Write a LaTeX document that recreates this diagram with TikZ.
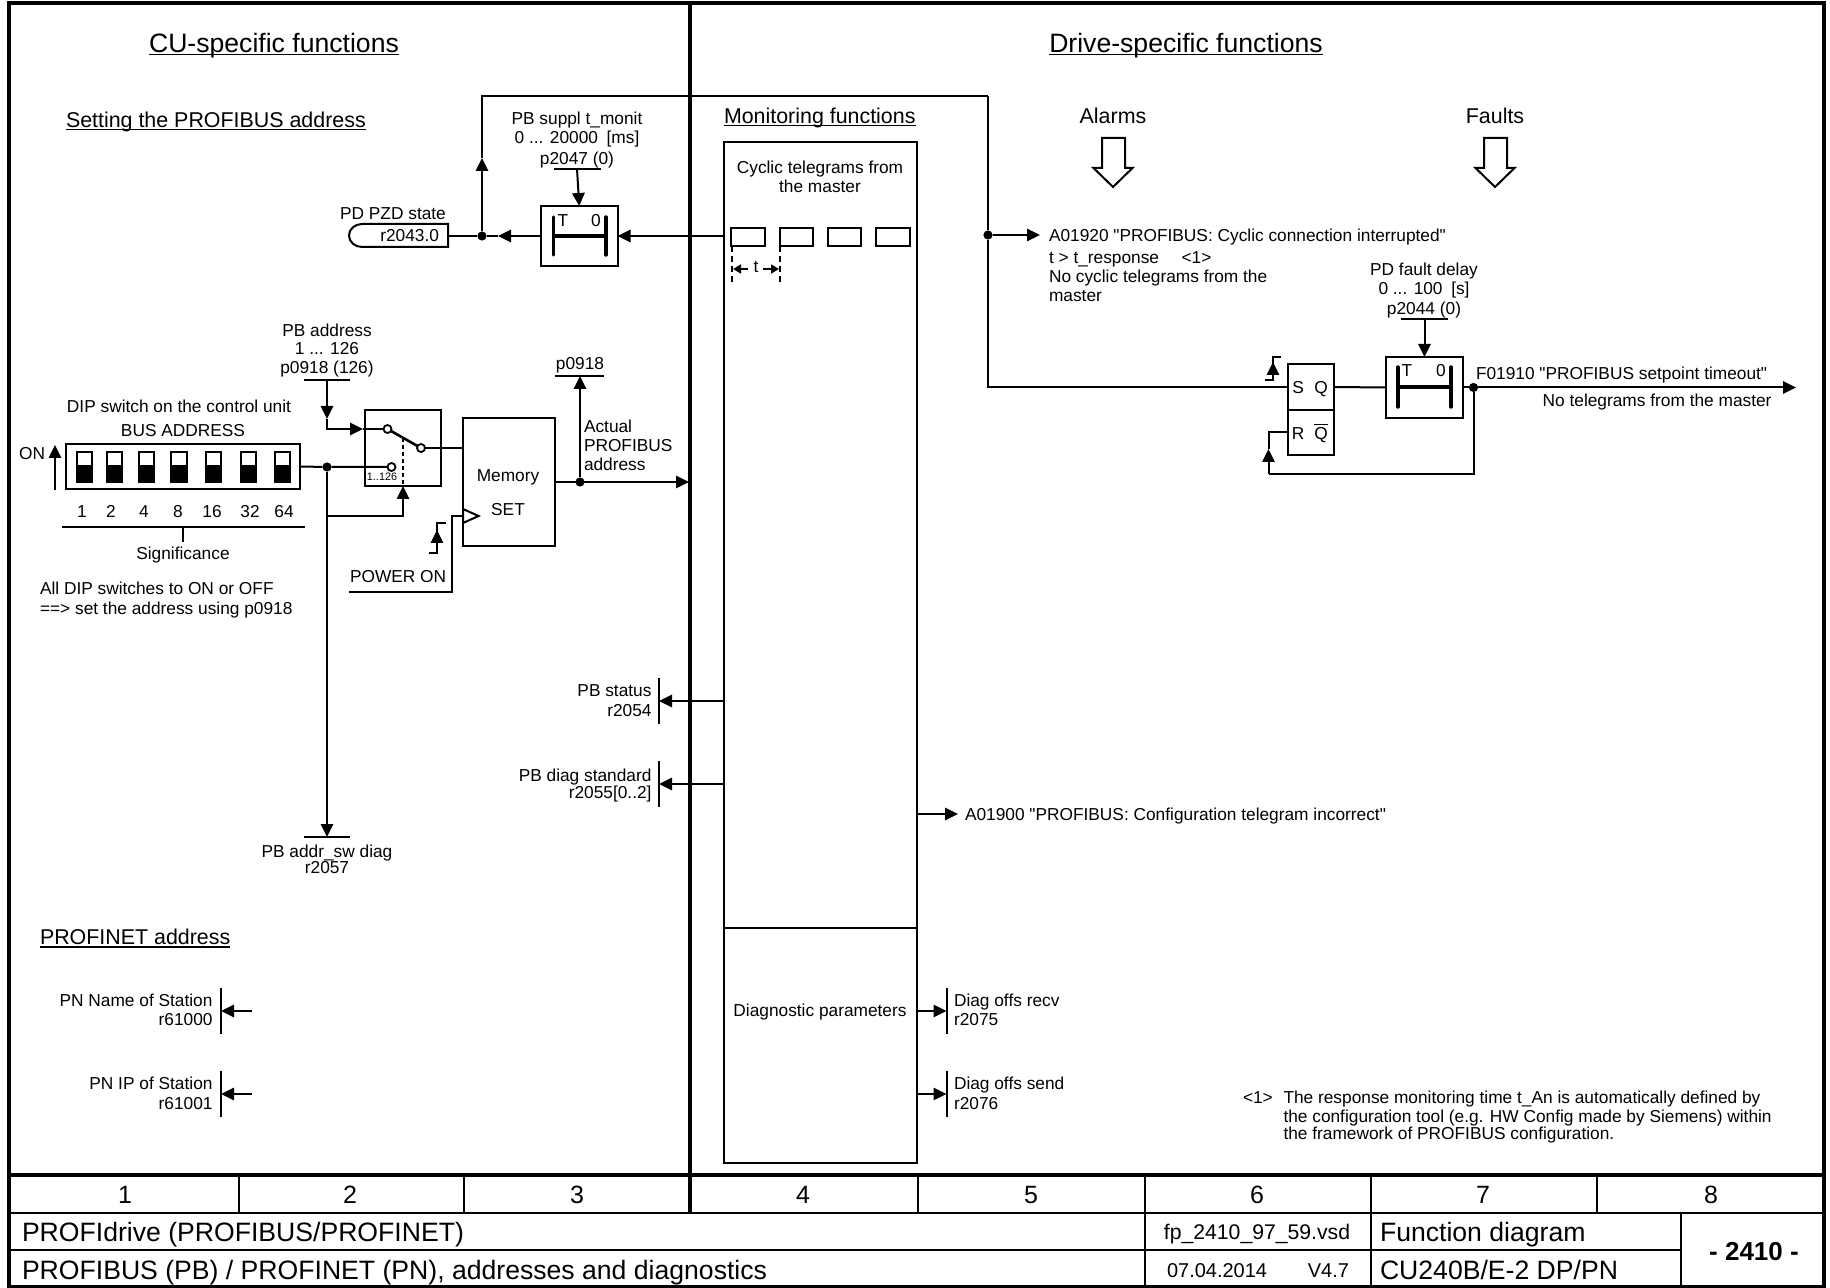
\documentclass[tikz,border=0pt]{standalone}
\usepackage{fontspec}
\setmainfont{Liberation Sans}[Ligatures=TeXOff]
\usetikzlibrary{arrows.meta}
\newcommand\fs[1]{\fontsize{#1pt}{#1pt}\selectfont}
\newcommand\ulx[1]{\setbox0=\hbox{#1}\rlap{\rule[-1.4pt]{\wd0}{.75pt}}\box0}
\newlength\bw\newlength\bh
% \bx[opts]{name}{x1}{y1}{x2}{y2}
\newcommand\bx[6][]{%
  \pgfmathsetlength\bw{(#5-#3)*0.5pt}\pgfmathsetlength\bh{(#6-#4)*0.5pt}%
  \pgfmathsetmacro\bcx{(#3+#5)/2}\pgfmathsetmacro\bcy{(#4+#6)/2}%
  \node[boxn,minimum width=\bw,minimum height=\bh,#1] (#2) at (\bcx,\bcy) {};}
\tikzset{
  x=0.5pt,y=-0.5pt,
  every path/.style={line width=1pt,draw=black},
  boxn/.style={draw,inner sep=0,outer sep=0,rectangle,fill=white},
  lbl/.style={inner sep=0,outer sep=0,font=\fs{8.65},text height=6.2pt,text depth=0pt,draw=none},
  lblS/.style={lbl,font=\fs{7.9},text height=5.7pt},
  lblM/.style={lbl,font=\fs{10.7},text height=7.7pt},
  lblT/.style={lbl,font=\fs{13.3},text height=9.6pt},
  lblB/.style={lbl,font=\fs{13.3},text height=9.6pt},
  lblD/.style={lbl,font=\fs{10},text height=7.2pt},
  lblN/.style={lbl,font=\fs{12.5},text height=9pt},
  tip/.style={-{Triangle[length=6.5pt,width=6.2pt]}},
  smalltip/.style={-{Triangle[length=4pt,width=4.5pt]},line width=.9pt},
  dotn/.style={circle,fill=black,draw=none,inner sep=0,minimum size=4.6pt,outer sep=0},
  contact/.style={circle,fill=white,draw=black,line width=.9pt,inner sep=0,minimum size=4pt,outer sep=0},
  heavy/.style={line width=1.9pt},
  bar/.style={line width=1.7pt,line cap=round},
  bar2/.style={line width=1pt},
  hollow/.style={line width=1pt,fill=white,line join=miter},
}
\newcommand\holl[1]{\draw[hollow] (#1-11,138)--(#1+12,138)--(#1+12,168)--(#1+19.5,168)--(#1,187)--(#1-19.5,168)--(#1-11,168)--cycle;}
\begin{document}
\begin{tikzpicture}
\useasboundingbox[fill=white,draw=none] (0,0) rectangle (1830,1288);

% frame and title block
\draw[heavy] (9,3) rectangle (1824,1287);
\draw[heavy] (690,3) -- (690,1213);
\draw[line width=2pt] (9,1175) -- (1824,1175);
\draw[line width=1.4pt] (9,1213) -- (1824,1213);
\draw[line width=1.2pt] (9,1250) -- (1681,1250);
\foreach \cx in {239,464,918,1145,1371,1597} \draw[line width=1.2pt] (\cx,1175) -- (\cx,1213);
\foreach \cx in {1145,1371,1681} \draw[line width=1.2pt] (\cx,1213) -- (\cx,1287);
\node[lblN] (n1) at (125,1194) {1};
\node[lblN] (n2) at (350,1194) {2};
\node[lblN] (n3) at (577,1194) {3};
\node[lblN] (n4) at (803,1194) {4};
\node[lblN] (n5) at (1031,1194) {5};
\node[lblN] (n6) at (1257,1194) {6};
\node[lblN] (n7) at (1483,1194) {7};
\node[lblN] (n8) at (1711,1194) {8};
\node[lblB,anchor=west] (t1) at (22,1232) {PROFIdrive (PROFIBUS/PROFINET)};
\node[lblB,anchor=west] (t2) at (22,1270) {PROFIBUS (PB) / PROFINET (PN), addresses and diagnostics};
\node[lblD,font=\fs{10.6}] (t3) at (1257,1232) {fp\_2410\_97\_59.vsd};
\node[lblD,anchor=west] (t4) at (1167,1270) {07.04.2014};
\node[lblD,anchor=east] (t5) at (1349,1270) {V4.7};
\node[lblB,anchor=west] (t6) at (1380,1232) {Function diagram};
\node[lblB,anchor=west] (t7) at (1380,1270) {CU240B/E-2 DP/PN};
\node[lblB,font=\fs{13}\bfseries] (t8) at (1754,1251) {- 2410 -};

% headings
\node[lblT] (h1) at (274,43) {\ulx{CU-specific functions}};
\node[lblT] (h2) at (1186,43) {\ulx{Drive-specific functions}};
\node[lblM,anchor=west] (h3) at (66,120) {\ulx{Setting the PROFIBUS address}};
\node[lblM,anchor=west] (h4) at (724,116) {\ulx{Monitoring functions}};
\node[lblM,anchor=west] (h5) at (40,937) {\ulx{PROFINET address}};
\node[lblM] (h6) at (1113,116) {Alarms};
\node[lblM] (h7) at (1495,116) {Faults};
\holl{1113}
\holl{1495}

% monitoring block
\bx{M1}{724}{142}{917}{928}
\bx{M2}{724}{928}{917}{1163}
\node[lbl] (m1) at (820,167) {Cyclic telegrams from};
\node[lbl] (m2) at (820,186) {the master};
\node[lbl] (m3) at (820,1010) {Diagnostic parameters};
\bx{R1}{731}{228}{765}{246}
\bx{R2}{780}{228}{813}{246}
\bx{R3}{828}{228}{861}{246}
\bx{R4}{876}{228}{910}{246}
\coordinate (d1a) at (732,246); \coordinate (d1b) at (732,282);
\coordinate (d2a) at (780,246); \coordinate (d2b) at (780,282);
\draw[dashed,line width=.9pt,dash pattern=on 3pt off 2pt] (d1a) -- (d1b);
\draw[dashed,line width=.9pt,dash pattern=on 3pt off 2pt] (d2a) -- (d2b);
\node[lbl] (tt) at (756,266) {t};
\coordinate (ta) at (748,269); \coordinate (tb) at (733,269);
\coordinate (tc) at (763,269); \coordinate (td) at (779,269);
\draw[smalltip] (ta) -- (tb);
\draw[smalltip] (tc) -- (td);

% PB supply monitoring
\bx{T1}{541}{206}{617.5}{266}
\coordinate (T1a) at (553.5,217); \coordinate (T1b) at (553.5,255);
\coordinate (T1c) at (606,217); \coordinate (T1d) at (606,255);
\coordinate (T1e) at (553.5,236); \coordinate (T1f) at (606,236);
\draw[bar] (T1a) -- (T1b); \draw[bar] (T1c) -- (T1d); \draw[bar,line cap=butt] (T1e) -- (T1f);
\node[lbl] (T1T) at (563,220) {T};
\node[lbl] (T10) at (596,220) {0};
\node[lbl] (p1) at (577,118) {PB suppl t\_monit};
\node[lbl] (p2) at (577,137) {0 ... 20000\hspace{.5em}[ms]};
\node[lbl] (p3) at (577,158) {p2047 (0)};
\coordinate (b1a) at (554,169); \coordinate (b1b) at (601,169); \coordinate (b1c) at (577,169);
\draw (b1a) -- (b1b);
\draw[tip] (b1c) -- (T1.north);

\coordinate (monL) at (724,236);
\draw[tip] (monL) -- (T1.east);
\node[lbl] (pzd) at (393,213) {PD PZD state};
\draw (448,224) -- (362,224) arc (270:90:13 and 11.5) -- (448,247) -- cycle;
\coordinate (pzdE) at (448,236);
\node[lbl,anchor=east] (pzdv) at (439,235) {r2043.0};
\node[dotn] (j2) at (482,236) {};
\coordinate (a2) at (498,236);
\draw[tip] (T1.west) -- (a2);
\draw (a2) -- (j2) -- (pzdE);
\coordinate (a3) at (482,158);
\coordinate (c3a) at (482,96);
\coordinate (c3b) at (988,96);
\draw[tip] (j2) -- (a3);
\draw (a3) -- (c3a) -- (c3b);

% alarm A01920
\node[dotn] (j3) at (988,235) {};
\coordinate (a4) at (1040,235);
\draw[tip] (j3) -- (a4);
\node[lbl,anchor=west] (a1) at (1049,235) {A01920 "PROFIBUS: Cyclic connection interrupted"};
\node[lbl,anchor=west] (a1b) at (1049,257) {t > t\_response\hspace{1.3em}<1>};
\node[lbl,anchor=west] (a1c) at (1049,276) {No cyclic telegrams from the};
\node[lbl,anchor=west] (a1d) at (1049,295) {master};

% fault latch
\bx{SQ}{1288}{364}{1333.5}{410}
\bx{RQ}{1288}{410}{1333.5}{455}
\node[lbl] (sS) at (1298,387) {S};
\node[lbl] (sQ) at (1321,387) {Q};
\node[lbl] (sR) at (1298,433) {R};
\node[lbl] (sQb) at (1321,433) {$\overline{\mbox{Q}}$};
\coordinate (c3c) at (988,387);
\draw (c3b) -- (j3) -- (c3c) -- (SQ.west);
\draw (1265,380) -- (1273,380) -- (1273,357) -- (1281,357);
\coordinate (ea) at (1273,373); \coordinate (eb) at (1273,362);
\draw[tip] (ea) -- (eb);
\bx{T2}{1386}{357}{1463}{418}
\coordinate (T2a) at (1398,367); \coordinate (T2b) at (1398,407);
\coordinate (T2c) at (1451,367); \coordinate (T2d) at (1451,407);
\coordinate (T2e) at (1398,387); \coordinate (T2f) at (1451,387);
\draw[bar] (T2a) -- (T2b); \draw[bar] (T2c) -- (T2d); \draw[bar,line cap=butt] (T2e) -- (T2f);
\node[lbl] (T2T) at (1407,370) {T};
\node[lbl] (T20) at (1441,370) {0};
\draw (SQ.east) -- (T2.west);
\node[lbl] (q1) at (1424,269) {PD fault delay};
\node[lbl] (q2) at (1424,288.5) {0 ... 100\hspace{.5em}[s]};
\node[lbl] (q3) at (1424,308) {p2044 (0)};
\coordinate (b2a) at (1401,319); \coordinate (b2b) at (1448,319); \coordinate (b2c) at (1424.5,319);
\draw (b2a) -- (b2b);
\draw[tip] (b2c) -- (T2.north);
\node[dotn] (j4) at (1473.5,387.5) {};
\coordinate (out) at (1796,387.5);
\draw[tip] (T2.east) -- (j4) -- (out);
\node[lbl,anchor=west] (f1) at (1476,373) {F01910 "PROFIBUS setpoint timeout"};
\node[lbl,anchor=east] (f2) at (1771.5,400) {No telegrams from the master};
\coordinate (fb1) at (1473.5,474); \coordinate (fb2) at (1268.5,474);
\coordinate (fb3) at (1268.5,449); \coordinate (fb4) at (1268.5,432.5);
\draw (j4) -- (fb1) -- (fb2);
\draw[tip] (fb2) -- (fb3);
\draw (fb3) -- (fb4) -- (RQ.west);

% DIP switch
\node[lbl] (dip1) at (179,406) {DIP switch on the control unit};
\node[lbl] (dip2) at (183,430) {BUS ADDRESS};
\node[lbl,anchor=east] (on) at (45,453) {ON};
\coordinate (ona) at (55,490); \coordinate (onb) at (55,445);
\draw[tip] (ona) -- (onb);
\bx{DIP}{66}{444}{300}{489}
\foreach \sa/\sb in {77/92,107/122,139/154,171/187,206/221,241/256,275/290}{
  \draw[line width=.9pt] (\sa,452) rectangle (\sb,482);
  \fill[black] (\sa,466) rectangle (\sb,482);
}
\node[lbl] (s1) at (82,511) {1};
\node[lbl] (s2) at (111,511) {2};
\node[lbl] (s3) at (144,511) {4};
\node[lbl] (s4) at (178,511) {8};
\node[lbl] (s5) at (212,511) {16};
\node[lbl] (s6) at (250,511) {32};
\node[lbl] (s7) at (284,511) {64};
\coordinate (sga) at (62,527); \coordinate (sgb) at (305,527);
\coordinate (sgc) at (183,527); \coordinate (sgd) at (183,542);
\draw (sga) -- (sgb); \draw (sgc) -- (sgd);
\node[lbl] (sg) at (183,553) {Significance};
\node[lbl,anchor=west] (all1) at (40,588) {All DIP switches to ON or OFF};
\node[lbl,anchor=west] (all2) at (40,608) {==> set the address using p0918};

% changeover switch
\bx{SW}{365}{410}{441}{486}
\node[contact] (c1) at (387.5,429) {};
\node[contact] (c2) at (421,448) {};
\node[contact] (c3) at (391.5,467) {};
\draw[line width=1.3pt] (c1) -- (c2);
\coordinate (lev) at (403,438); \coordinate (levb) at (403,486);
\draw[dashed,line width=.9pt,dash pattern=on 2pt off 1.5pt] (lev) -- (levb);
\node[lbl,font=\fs{5.4},text height=3.9pt] (rng) at (382,477) {1..126};
\node[dotn] (j1) at (327,467) {};
\draw (DIP.east) -- (j1) -- (c3);
\node[lbl] (ad1) at (327,330) {PB address};
\node[lbl] (ad2) at (327,348) {1 ... 126};
\node[lbl] (ad3) at (327,367) {p0918 (126)};
\coordinate (b3a) at (304,380); \coordinate (b3b) at (350,380); \coordinate (b3c) at (327,380);
\draw (b3a) -- (b3b);
\coordinate (a5) at (327,419); \coordinate (c5) at (327,429); \coordinate (a6) at (363,429);
\draw[tip] (b3c) -- (a5);
\draw[tip] (a5) -- (c5) -- (a6);
\draw (a6) -- (c1);
\coordinate (c7) at (327,516); \coordinate (c8) at (403,516);
\draw[tip] (j1) -- (c7) -- (c8) -- (levb);
\coordinate (a9) at (327,837);
\draw[tip] (c7) -- (a9);
\coordinate (b4a) at (304,837); \coordinate (b4b) at (350,837);
\draw (b4a) -- (b4b);
\node[lbl] (ps1) at (327,851) {PB addr\_sw diag};
\node[lbl] (ps2) at (327,867) {r2057};

% memory
\bx{MEM}{463}{418}{554.5}{546}
\node[lbl] (me1) at (508,475) {Memory};
\node[lbl] (me2) at (508,509) {SET};
\coordinate (m448) at (463,448);
\draw (c2) -- (m448);
\coordinate (tr1) at (463,509); \coordinate (tr2) at (478.6,516); \coordinate (tr3) at (463,523);
\draw[fill=white] (tr1) -- (tr2) -- (tr3) -- cycle;
\node[lbl,anchor=west] (pw) at (350,576) {POWER ON};
\coordinate (pa) at (349,592); \coordinate (pb) at (452,592); \coordinate (pc) at (452,516); \coordinate (pd) at (463,516);
\draw (pa) -- (pb) -- (pc) -- (pd);
\draw (428.6,553) -- (437,553) -- (437,523) -- (445.5,523);
\coordinate (eca) at (437,547); \coordinate (ecb) at (437,530);
\draw[tip] (eca) -- (ecb);
\coordinate (mo) at (554.5,482); \coordinate (moE) at (689,482);
\node[dotn] (j5) at (580,482) {};
\draw[tip] (mo) -- (moE);
\coordinate (up) at (580,376);
\draw[tip] (j5) -- (up);
\coordinate (b5a) at (555,376); \coordinate (b5b) at (603.5,376);
\draw (b5a) -- (b5b);
\node[lbl] (pp) at (580,363) {p0918};
\node[lbl,anchor=west] (ac1) at (584,426) {Actual};
\node[lbl,anchor=west] (ac2) at (584,445) {PROFIBUS};
\node[lbl,anchor=west] (ac3) at (584,464) {address};

% status outputs
\coordinate (st0) at (724,701); \coordinate (st1) at (659,701);
\draw[tip] (st0) -- (st1);
\coordinate (b6a) at (659,678); \coordinate (b6b) at (659,724);
\draw (b6a) -- (b6b);
\node[lbl,anchor=east] (st2) at (651.5,690) {PB status};
\node[lbl,anchor=east] (st3) at (651.5,710) {r2054};
\coordinate (dg0) at (724,784); \coordinate (dg1) at (659,784);
\draw[tip] (dg0) -- (dg1);
\coordinate (b7a) at (659,761); \coordinate (b7b) at (659,807);
\draw (b7a) -- (b7b);
\node[lbl,anchor=east] (dg2) at (651.5,775) {PB diag standard};
\node[lbl,anchor=east] (dg3) at (651.5,792) {r2055[0..2]};
\coordinate (cf0) at (917,814); \coordinate (cf1) at (958,814);
\draw[tip] (cf0) -- (cf1);
\node[lbl,anchor=west] (cf2) at (965,814) {A01900 "PROFIBUS: Configuration telegram incorrect"};

% PROFINET
\coordinate (pn0) at (252,1011); \coordinate (pn1) at (221,1011);
\draw[tip] (pn0) -- (pn1);
\coordinate (b8a) at (221,988); \coordinate (b8b) at (221,1034);
\draw (b8a) -- (b8b);
\node[lbl,anchor=east] (pn2) at (212.5,1000.5) {PN Name of Station};
\node[lbl,anchor=east] (pn3) at (212.5,1019) {r61000};
\coordinate (pi0) at (252,1094); \coordinate (pi1) at (221,1094);
\draw[tip] (pi0) -- (pi1);
\coordinate (b9a) at (221,1071); \coordinate (b9b) at (221,1117);
\draw (b9a) -- (b9b);
\node[lbl,anchor=east] (pi2) at (212.5,1083) {PN IP of Station};
\node[lbl,anchor=east] (pi3) at (212.5,1103) {r61001};

% diagnostic offsets
\coordinate (dr0) at (917,1011); \coordinate (dr1) at (946.5,1011);
\draw[tip] (dr0) -- (dr1);
\coordinate (b10a) at (946.5,988); \coordinate (b10b) at (946.5,1034);
\draw (b10a) -- (b10b);
\node[lbl,anchor=west] (dr2) at (954,1000) {Diag offs recv};
\node[lbl,anchor=west] (dr3) at (954,1019) {r2075};
\coordinate (ds0) at (917,1094); \coordinate (ds1) at (946.5,1094);
\draw[tip] (ds0) -- (ds1);
\coordinate (b11a) at (946.5,1071); \coordinate (b11b) at (946.5,1117);
\draw (b11a) -- (b11b);
\node[lbl,anchor=west] (ds2) at (954,1083) {Diag offs send};
\node[lbl,anchor=west] (ds3) at (954,1103) {r2076};

% footnote
\node[lbl,anchor=west] (nt0) at (1243,1097) {<1>};
\node[lbl,anchor=west] (nt1) at (1283.5,1097) {The response monitoring time t\_An is automatically defined by};
\node[lbl,anchor=west] (nt2) at (1283.5,1116) {the configuration tool (e.g. HW Config made by Siemens) within};
\node[lbl,anchor=west] (nt3) at (1283.5,1133) {the framework of PROFIBUS configuration.};
\end{tikzpicture}
\end{document}
